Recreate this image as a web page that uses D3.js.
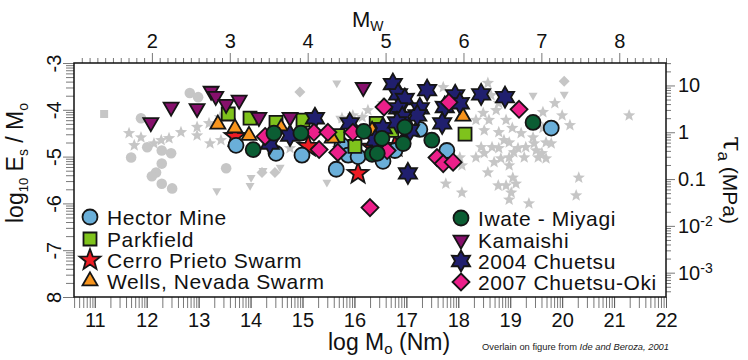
<!DOCTYPE html>
<html><head><meta charset="utf-8">
<script src="https://cdn.jsdelivr.net/npm/d3@7"></script>
<style>body{margin:0;background:#fff}svg{display:block;font-family:"Liberation Sans",Arial,Helvetica,sans-serif}</style>
</head><body><svg id="c" width="748" height="360"></svg>
<script>
// ---------- data: [log10 Mo (Nm), log10 Es/Mo] ----------
const greyStars = [[18.57,-3.43],[18.63,-3.69],[18.73,-4.01],[18.48,-4.07],[18.59,-4.22],[18.34,-4.22],[18.50,-4.44],[18.78,-4.48],[18.88,-4.65],[19.04,-4.39],[19.21,-4.50],[18.98,-4.70],[18.78,-4.82],[18.44,-4.80],[18.65,-4.80],[19.15,-4.82],[19.30,-4.80],[19.44,-4.59],[19.50,-4.87],[19.63,-4.39],[19.69,-4.70],[19.63,-4.05],[19.86,-3.86],[20.00,-4.12],[20.15,-4.33],[19.46,-4.72],[19.61,-4.93],[19.79,-4.72],[19.27,-5.02],[19.07,-4.91],[19.69,-5.04],[21.29,-4.12],[18.78,-3.86],[18.92,-4.22],[18.34,-5.02],[18.50,-4.93],[18.69,-5.12],[18.82,-5.04],[18.98,-5.02],[18.98,-5.19],[18.57,-5.34],[19.05,-5.45],[18.77,-5.62],[18.92,-5.62],[19.11,-5.58],[19.02,-5.77],[18.98,-5.92],[19.36,-6.00],[19.54,-5.02],[20.32,-5.45],[20.27,-5.83],[17.76,-5.58],[18.07,-5.77],[18.07,-5.19],[18.03,-5.02],[17.71,-3.52],[16.26,-4.01],[16.15,-4.16],[16.55,-3.86],[15.76,-4.18],[15.97,-4.12],
  [11.66,-4.50],[11.89,-4.59],[12.28,-4.65],[12.43,-4.61],[12.66,-4.48],[12.97,-4.37],[13.20,-4.29],[12.14,-4.72],[11.76,-4.76],[13.43,-4.65],[12.97,-4.55],[13.41,-4.16],[13.22,-4.72],[14.76,-4.82]];
const greyCircles = [[12.83,-3.64],[12.99,-3.73],[11.89,-4.18],[11.70,-5.02],[12.01,-4.80],[12.29,-4.87],[12.47,-4.93],[12.29,-5.15],[12.18,-5.34],[12.10,-5.42],[12.29,-5.58],[12.49,-5.68],[13.53,-5.25]];
const greySquares = [[11.18,-4.09]];
const greyDiamonds = [[14.95,-3.62],[20.04,-3.39],[14.22,-5.34],[14.47,-5.34]];
const greyTriangles = [[13.35,-5.73],[13.99,-5.62],[14.01,-5.45],[14.24,-5.30],[15.47,-5.55],[15.66,-3.43],[19.44,-3.69],[20.04,-3.67],[15.72,-4.18],[14.57,-5.23]];

const hectorMine = [[13.72,-4.76],[14.49,-4.93],[14.99,-4.97],[15.65,-5.27],[15.76,-4.76],[15.88,-4.97],[16.07,-5.00],[16.55,-5.10],[17.78,-4.87],[19.79,-4.39],[17.26,-4.42],[16.78,-4.87]];
const parkfield = [[13.57,-4.09],[13.99,-4.18],[14.49,-4.27],[15.01,-4.22],[15.68,-4.55],[16.01,-4.78],[16.42,-4.29],[16.72,-4.44],[18.13,-4.52]];
const cerroPrieto = [[13.70,-4.57],[15.11,-4.78],[16.34,-4.80],[16.78,-4.78],[16.07,-5.36],[15.82,-4.87]];
const wellsNevada = [[13.37,-4.31],[13.70,-4.39],[13.97,-4.55],[14.59,-4.39],[15.57,-4.61],[16.34,-4.44],[18.09,-4.14]];
const iwateMiyagi = [[14.05,-4.85],[14.45,-4.50],[14.97,-4.50],[16.18,-4.46],[16.34,-4.95],[16.53,-4.61],[16.94,-4.72],[16.97,-4.37],[17.49,-4.65],[19.44,-4.27],[16.44,-4.93]];
const kamaishi = [[12.08,-4.27],[12.47,-3.94],[12.97,-3.97],[13.24,-3.60],[13.33,-3.71],[13.53,-3.88],[13.78,-3.79],[14.16,-4.16],[14.76,-4.16],[16.17,-3.52]];
const chuetsu2004 = [[16.74,-3.45],[16.84,-3.67],[16.97,-3.77],[17.40,-3.58],[17.94,-3.69],[18.03,-3.86],[17.74,-3.94],[17.69,-4.29],[17.26,-3.97],[17.21,-4.12],[16.84,-3.97],[16.92,-4.16],[16.55,-4.39],[16.82,-4.27],[15.91,-4.29],[15.24,-4.18],[14.37,-4.72],[14.76,-4.55],[17.03,-5.36],[18.44,-3.67],[18.90,-3.73],[17.07,-4.44],[16.40,-4.65]];
const chuetsuOki2007 = [[14.28,-4.57],[15.22,-4.48],[15.49,-4.48],[15.32,-4.85],[15.97,-4.48],[16.57,-3.94],[17.82,-3.84],[17.59,-5.02],[17.71,-5.15],[17.90,-5.12],[19.17,-3.99],[16.30,-6.09],[16.63,-4.87],[15.68,-4.91]];

const legendNames = ["Hector Mine","Parkfield","Cerro Prieto Swarm","Wells, Nevada Swarm","Iwate - Miyagi","Kamaishi","2004 Chuetsu","2007 Chuetsu-Oki"];
const xTickValues = [11,12,13,14,15,16,17,18,19,20,21,22];
const yTickValues = [-3,-4,-5,-6,-7,-8];
const yTickLabels = ["-3","-4","-5","-6","-7","8"];
const mwTickValues = [2,3,4,5,6,7,8];
const tauTickValues = [10,1,0.1,0.01,0.001];
const tauTickLabels = [["10",""],["1",""],["0.1",""],["10","-2"],["10","-3"]];

// ---------- layout ----------
const svg = d3.select("#c");
const L=74,R=666,T=63,B=297;
const x = d3.scaleLinear().domain([10.6,22]).range([L,R]);
const y = d3.scaleLinear().domain([-3,-8]).range([T,B]);
const logMu = 4.48;
const mw = d3.scaleLinear().domain([(10.6-9.1)/1.5,(22-9.1)/1.5]).range([L,R]);
const tau = d3.scaleLog().domain([Math.pow(10,-3+logMu),Math.pow(10,-8+logMu)]).range([T,B]);

// ---------- shapes ----------
const P = {
  circle: r => `M${r},0A${r},${r} 0 1 1 ${-r},0A${r},${r} 0 1 1 ${r},0Z`,
  square: s => {const h=s/2;return `M${-h},${-h}H${h}V${h}H${-h}Z`;},
  diamond: a => `M0,${-a}L${a},0L0,${a}L${-a},0Z`,
  triUp: w => {const h=w*0.866;return `M0,${-2*h/3}L${w/2},${h/3}L${-w/2},${h/3}Z`;},
  triDown: w => {const h=w*0.866;return `M0,${2*h/3}L${w/2},${-h/3}L${-w/2},${-h/3}Z`;},
  star: (n,Ro,Ri) => {let s="";for(let i=0;i<2*n;i++){const rr=i%2?Ri:Ro;const a=-Math.PI/2+i*Math.PI/n;s+=(i?"L":"M")+(rr*Math.cos(a)).toFixed(2)+","+(rr*Math.sin(a)).toFixed(2);}return s+"Z";}
};

// ---------- axes ----------
const axisCol="#555";
function styleAxis(g){g.select(".domain").remove();g.selectAll(".tick line").attr("stroke",axisCol).attr("stroke-width",0.8);g.selectAll("text").attr("fill","#111").style("font-size","20px").style("font-family","'Liberation Sans',Arial,sans-serif");}

const xMinor=[];for(let n=10;n<=21;n++)for(let k=1;k<=9;k++){const v=n+Math.log10(k);if(v>=10.6-1e-9&&v<=22+1e-9)xMinor.push(v);}
xMinor.push(22);
svg.append("g").attr("transform",`translate(0,${B})`).call(d3.axisBottom(x).tickValues(xMinor).tickSize(11).tickFormat(()=>"")).call(styleAxis);
svg.append("g").attr("transform",`translate(0,${B})`).call(d3.axisBottom(x).tickValues(xTickValues).tickSize(11).tickPadding(5).tickFormat(d3.format("d"))).call(styleAxis);

const yMinor=[];for(let n=-8;n<=-4;n++)for(let k=2;k<=9;k++){const v=n+Math.log10(k);if(v<=-3)yMinor.push(v);}
svg.append("g").attr("transform",`translate(${L},0)`).call(d3.axisLeft(y).tickValues(yMinor).tickSize(8).tickFormat(()=>"")).call(styleAxis);
const gy=svg.append("g").attr("transform",`translate(${L},0)`).call(d3.axisLeft(y).tickValues(yTickValues).tickSize(11).tickFormat((d,i)=>yTickLabels[i])).call(styleAxis);
gy.selectAll("text").attr("x",null).attr("dy",null).attr("text-anchor","middle").attr("transform","translate(-13,0) rotate(-90)");

const mwMinor=[];for(let i=10;i<=86;i++){if(i%10)mwMinor.push(i/10);}
svg.append("g").attr("transform",`translate(0,${T})`).call(d3.axisTop(mw).tickValues(mwMinor).tickSize(5).tickFormat(()=>"")).call(styleAxis);
svg.append("g").attr("transform",`translate(0,${T})`).call(d3.axisTop(mw).tickValues(mwTickValues).tickSize(10).tickPadding(5).tickFormat(d3.format("d"))).call(styleAxis);

const tMinor=[];for(let e=-4;e<=1;e++)for(let k=2;k<=9;k++){const v=k*Math.pow(10,e);if(v<=tau.domain()[0]&&v>=tau.domain()[1])tMinor.push(v);}
svg.append("g").attr("transform",`translate(${R},0)`).call(d3.axisRight(tau).tickValues(tMinor).tickSize(5).tickFormat(()=>"")).call(styleAxis);
const gt=svg.append("g").attr("transform",`translate(${R},0)`).call(d3.axisRight(tau).tickValues(tauTickValues).tickSize(9).tickPadding(3).tickFormat(()=>"")).call(styleAxis);
gt.selectAll(".tick text").each(function(d,i){const t=d3.select(this);t.text(tauTickLabels[i][0]);if(tauTickLabels[i][1])t.append("tspan").attr("dy","-0.45em").style("font-size","14px").text(tauTickLabels[i][1]);});

// frame
svg.append("rect").attr("x",L).attr("y",T).attr("width",R-L).attr("height",B-T).attr("fill","none").attr("stroke","#111").attr("stroke-width",1.5);

// ---------- titles ----------
const tb=svg.append("text").attr("x",328).attr("y",350).style("font-size","23px").attr("fill","#111");
tb.append("tspan").text("log M");tb.append("tspan").attr("dy",4).style("font-size","15px").text("o");tb.append("tspan").attr("dy",-4).text(" (Nm)");
const tt=svg.append("text").attr("x",352).attr("y",27).style("font-size","22px").attr("fill","#111");
tt.append("tspan").text("M");tt.append("tspan").attr("dy",4).style("font-size","14px").text("W");
const tl=svg.append("text").attr("transform","translate(23,223) rotate(-90)").style("font-size","23px").attr("fill","#111");
tl.append("tspan").text("log");tl.append("tspan").attr("dy",5).style("font-size","13px").text("10");
tl.append("tspan").attr("dy",-5).text("  E");tl.append("tspan").attr("dy",5).style("font-size","14px").text("s");
tl.append("tspan").attr("dy",-5).text(" / M");tl.append("tspan").attr("dy",5).style("font-size","14px").text("o");
const tr=svg.append("text").attr("transform","translate(723,136) rotate(90)").attr("fill","#111").style("font-size","21px");
tr.append("tspan").style("font-size","28px").style("font-family","'DejaVu Serif',serif").text("τ");tr.append("tspan").attr("dy",5).style("font-size","17px").text("a");tr.append("tspan").attr("dy",-5).text(" (MPa)");
const cr=svg.append("text").attr("x",482).attr("y",350).style("font-size","9px").attr("fill","#222").attr("textLength",187).attr("lengthAdjust","spacingAndGlyphs");
cr.append("tspan").text("Overlain on figure from ");cr.append("tspan").style("font-style","italic").text("Ide and Beroza, 2001");

// ---------- marks ----------
const grey="#c6c6c6";
const plot=svg.append("g");
function draw(data,d,fill,stroke){
  plot.append("g").selectAll("path").data(data).join("path")
    .attr("transform",p=>`translate(${x(p[0])},${y(p[1])})`).attr("d",d)
    .attr("fill",fill).attr("stroke",stroke||"none").attr("stroke-width",stroke?1.8:0).attr("stroke-linejoin","miter");
}
draw(greyStars,P.star(5,6.5,2.8),grey);
draw(greyCircles,P.circle(5.3),grey);
draw(greySquares,P.square(8),grey);
draw(greyDiamonds,P.diamond(5.5),grey);
draw(greyTriangles,P.triDown(9),grey);

const sk="#151515";
const styles = [
  {data:cerroPrieto,d:P.star(5,11,4.6),fill:"#ed1c24"},
  {data:hectorMine,d:P.circle(7.5),fill:"#6aafd9"},
  {data:parkfield,d:P.square(13),fill:"#7fc31c"},
  {data:wellsNevada,d:P.triUp(15),fill:"#f7941d"},
  {data:kamaishi,d:P.triDown(15),fill:"#86106c"},
  {data:chuetsu2004,d:P.star(6,10.5,6),fill:"#201f6e"},
  {data:chuetsuOki2007,d:P.diamond(8.5),fill:"#ec1f8a"},
  {data:iwateMiyagi,d:P.circle(7.5),fill:"#0b5d33"}
];
styles.forEach(s=>draw(s.data,s.d,s.fill,sk));

// ---------- legend ----------
const legShapes=[styles[1],styles[2],styles[0],styles[3],styles[7],styles[4],styles[5],styles[6]];
const legPos=[[90,217],[90,239],[90,260],[90,281],[461,218],[461,240],[461,261],[461,282]];
const lg=svg.append("g");
legendNames.forEach((n,i)=>{
  const [lx,ly]=legPos[i];
  lg.append("path").attr("transform",`translate(${lx},${ly})`).attr("d",legShapes[i].d).attr("fill",legShapes[i].fill).attr("stroke",sk).attr("stroke-width",1.8);
  lg.append("text").attr("x",lx+17).attr("y",ly).attr("dy","0.36em").style("font-size","21px").style("letter-spacing","0.6px").attr("fill","#111").text(n);
});
</script></body></html>
